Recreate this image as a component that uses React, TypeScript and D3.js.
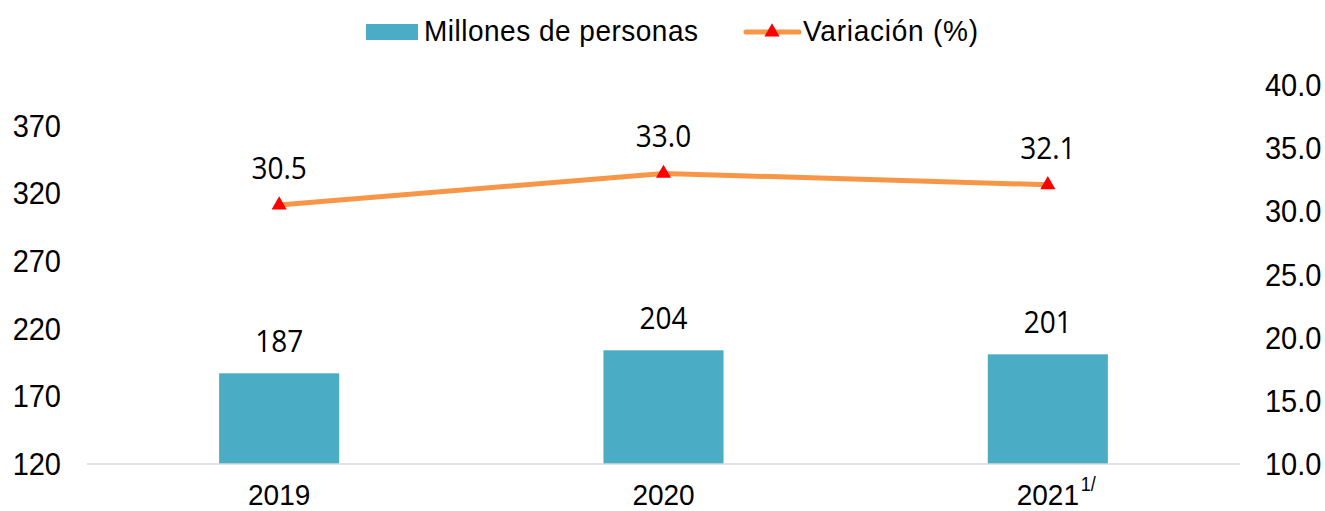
import React from "react";
import * as d3 from "d3";

const years = ["2019", "2020", "2021"];
const yearNotes = ["", "", "1/"];
const personas = [187, 204, 201];
const variacion = [30.5, 33.0, 32.1];
const leftTicks = [120, 170, 220, 270, 320, 370];
const rightTicks = [10, 15, 20, 25, 30, 35, 40];

const W = 1325;
const H = 511;
const plot = { left: 87, right: 1240, top: 85, bottom: 464 };
const barColor = "#4BACC6";
const lineColor = "#F79646";
const markColor = "#FF0000";
const tickFont = "Liberation Sans";
const labelFont = "Open Sans";
const SY = 1.08; // the source is a little stretched vertically

// text drawn at (x, y) baseline with a slight vertical stretch
function T(props: {
  x: number;
  y: number;
  size: number;
  font?: string;
  anchor?: string;
  len?: number;
  children: React.ReactNode;
}) {
  return (
    <text
      transform={`translate(${props.x},${props.y}) scale(1,${SY})`}
      textAnchor={props.anchor || "start"}
      fontFamily={props.font || tickFont}
      fontSize={props.size}
      textLength={props.len}
      fill="#000"
    >
      {props.children}
    </text>
  );
}

export default function App() {
  const x = d3
    .scaleBand()
    .domain(years)
    .range([plot.left, plot.right])
    .paddingInner(0.6875)
    .paddingOuter(0.34375);
  const yL = d3.scaleLinear().domain([120, 400]).range([plot.bottom, plot.top]);
  const yR = d3.scaleLinear().domain([10, 40]).range([plot.bottom, plot.top]);

  const cx = (yr: string) => (x(yr) as number) + x.bandwidth() / 2;

  const line = d3
    .line<number>()
    .x((_, i) => cx(years[i]))
    .y((d) => yR(d));

  const tri = d3.symbol().type(d3.symbolTriangle).size(100);

  return (
    <svg width={W} height={H} style={{ position: "absolute", left: 0, top: 0 }}>
      <rect width={W} height={H} fill="#fff" />

      {/* legend */}
      <g>
        <rect x={366} y={24} width={52} height={16} fill={barColor} />
        <T x={424} y={41} size={28} len={274}>
          Millones de personas
        </T>
        <line x1={746} x2={799} y1={32} y2={32} stroke={lineColor} strokeWidth={5} strokeLinecap="round" />
        <path d={tri() as string} transform="translate(772,32)" fill={markColor} />
        <T x={803} y={41} size={28} len={175}>
          Variación (%)
        </T>
      </g>

      {/* left axis */}
      {leftTicks.map((t) => (
        <T key={t} x={61} y={yL(t) + 11} size={29} anchor="end">
          {t}
        </T>
      ))}

      {/* right axis */}
      {rightTicks.map((t) => (
        <T key={t} x={1265} y={yR(t) + 11} size={29}>
          {t.toFixed(1)}
        </T>
      ))}

      {/* bars */}
      {personas.map((v, i) => (
        <g key={years[i]}>
          <rect
            x={x(years[i])}
            y={yL(v)}
            width={x.bandwidth()}
            height={plot.bottom - yL(v)}
            fill={barColor}
          />
          <T x={cx(years[i])} y={yL(v) - 21} size={28} font={labelFont} anchor="middle">
            {v}
          </T>
        </g>
      ))}

      <line x1={plot.left} x2={plot.right} y1={plot.bottom} y2={plot.bottom} stroke="#d9d9d9" strokeWidth={1.5} />

      {/* x labels */}
      {years.map((yr, i) => (
        <g key={yr}>
          <T x={cx(yr)} y={505} size={28} anchor="middle">
            {yr}
          </T>
          {yearNotes[i] && (
            <T x={cx(yr) + 33} y={491} size={18}>
              {yearNotes[i]}
            </T>
          )}
        </g>
      ))}

      {/* line */}
      <path d={line(variacion) as string} fill="none" stroke={lineColor} strokeWidth={5} strokeLinecap="round" />
      {variacion.map((v, i) => (
        <g key={years[i]}>
          <path d={tri() as string} transform={`translate(${cx(years[i])},${yR(v)})`} fill={markColor} />
          <T x={cx(years[i])} y={yR(v) - 26} size={28} font={labelFont} anchor="middle">
            {v.toFixed(1)}
          </T>
        </g>
      ))}
    </svg>
  );
}
